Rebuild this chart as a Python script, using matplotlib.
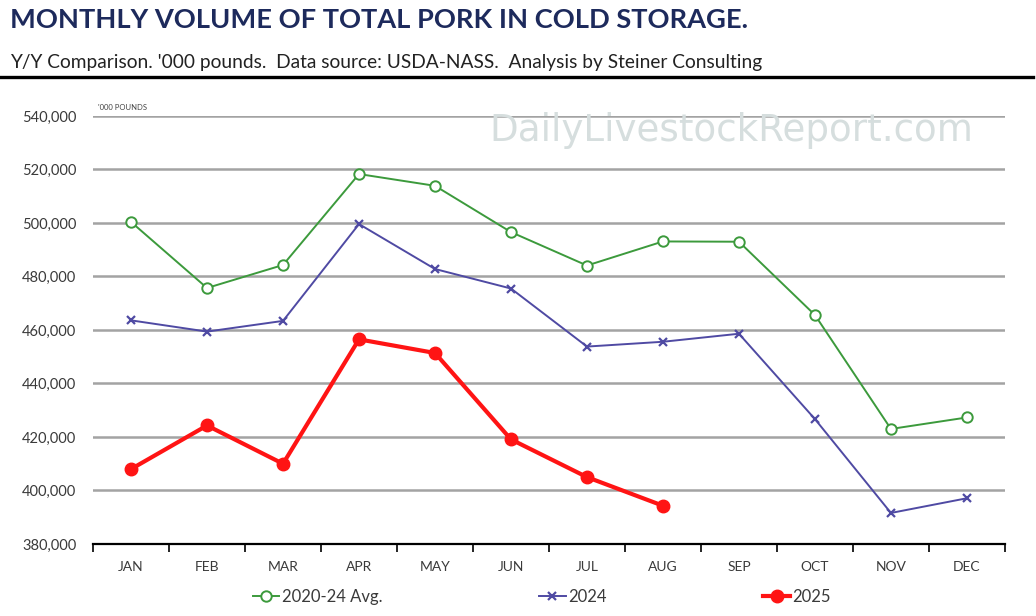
import matplotlib
matplotlib.use("Agg")
import matplotlib.pyplot as plt
from matplotlib.ticker import FuncFormatter, FixedLocator
from matplotlib.lines import Line2D

plt.rcParams['font.family'] = ['Lato', 'DejaVu Sans']

months = ['JAN', 'FEB', 'MAR', 'APR', 'MAY', 'JUN',
          'JUL', 'AUG', 'SEP', 'OCT', 'NOV', 'DEC']
avg_2020_24 = [500400, 475700, 484300, 518300, 513900, 496600,
               484100, 493100, 493000, 465600, 423000, 427300]
vol_2024 = [463600, 459400, 463400, 499600, 482800, 475500,
            453800, 455600, 458600, 426700, 391600, 397100]
vol_2025 = [408000, 424300, 410000, 456500, 451400, 419100,
            405000, 394300]
yticks = list(range(380000, 540001, 20000))

fig = plt.figure(figsize=(10.36, 6.16), dpi=100)
ax = fig.add_axes([0.0898, 0.1169, 0.8802, 0.6948])

x = list(range(len(months)))
ax.plot(x, avg_2020_24, color='#3c9a3c', lw=1.4, marker='o', ms=7.5,
        mfc='white', mec='#3c9a3c', mew=1.4, label='2020-24 Avg.', zorder=3)
ax.plot(x, vol_2024, color='#4f4aa3', lw=1.4, marker='x', ms=6,
        mew=1.6, label='2024', zorder=3)
ax.plot(x[:len(vol_2025)], vol_2025, color='#ff1414', lw=3, marker='o',
        ms=9, label='2025', zorder=4)

ax.set_ylim(380000, 540000)
ax.set_xlim(-0.5, 11.5)
ax.set_yticks(yticks)
ax.yaxis.set_major_formatter(FuncFormatter(lambda v, p: f'{int(v):,}'))
ax.yaxis.grid(True, color='#a3a3a3', lw=1.8)
ax.set_axisbelow(True)
ax.tick_params(axis='y', length=0, pad=12, labelsize=10.5, labelcolor='#3a3a3a')

ax.set_xticks(x)
ax.set_xticklabels(months)
ax.xaxis.set_minor_locator(FixedLocator([i - 0.5 for i in range(13)]))
ax.tick_params(axis='x', which='major', length=0, pad=12, labelsize=10,
               labelcolor='#3a3a3a')
ax.tick_params(axis='x', which='minor', length=6, width=1.2, color='black',
               direction='out')

for s in ['left', 'right', 'top']:
    ax.spines[s].set_visible(False)
ax.spines['bottom'].set_color('black')
ax.spines['bottom'].set_linewidth(1.6)

ax.text(0.005, 1.012, "'000 POUNDS", transform=ax.transAxes, fontsize=5.5,
        color='#444444', va='bottom')
ax.text(0.7, 0.965, 'DailyLivestockReport.com', transform=ax.transAxes,
        fontsize=26.8, color='#d6dede', ha='center', va='center',
        family=['DejaVu Sans'], zorder=1)

ax.legend(loc='upper center', bbox_to_anchor=(0.492, -0.07), ncol=3,
          frameon=False, fontsize=12, handlelength=1.6, handletextpad=0.15,
          columnspacing=9.4, labelcolor='#3a3a3a')

fig.text(0.01, 0.967, 'MONTHLY VOLUME OF TOTAL PORK IN COLD STORAGE.',
         fontsize=19.6, fontweight='bold', color='#1d2a5c', va='center')
fig.text(0.01, 0.899,
         "Y/Y Comparison. '000 pounds.  Data source: USDA-NASS.  Analysis by Steiner Consulting",
         fontsize=13.8, color='#222222', va='center')
fig.add_artist(Line2D([0.0, 0.997], [0.875, 0.875], color='black', lw=2.4,
                      transform=fig.transFigure))

fig.savefig('out.png', dpi=100, facecolor='white')
